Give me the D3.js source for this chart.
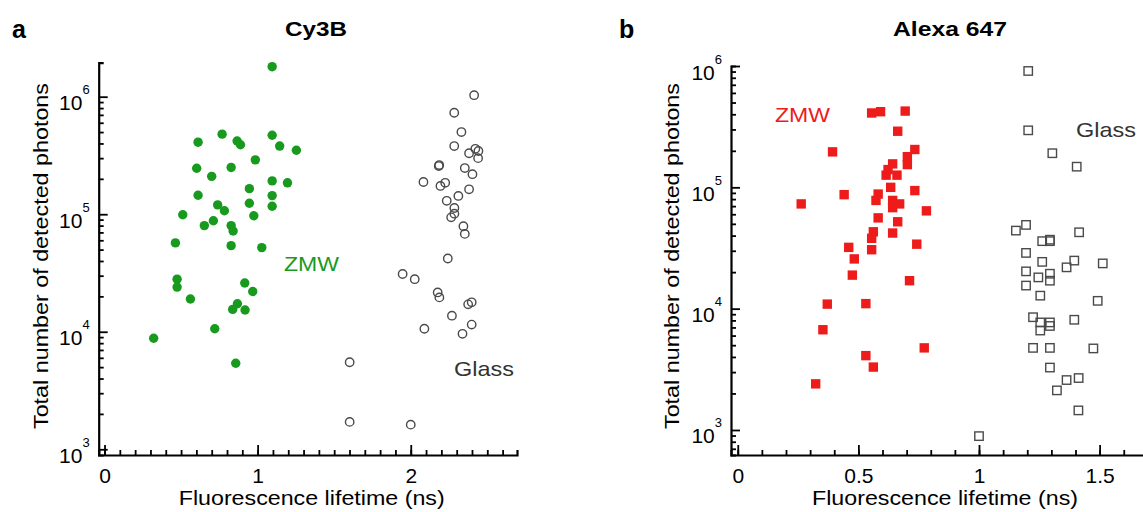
<!DOCTYPE html>
<html>
<head>
<meta charset="utf-8">
<script src="https://cdn.jsdelivr.net/npm/d3@7"></script>
<style>
  body { margin: 0; background: #fff; }
  svg { display: block; font-family: Arial, "Liberation Sans", sans-serif; }
</style>
</head>
<body>
<div id="chart"></div>
<script>
// Cy3B, ZMW (green dots)
const cy3bZmwLifetime = [1.095, 0.768, 0.611, 0.866, 0.888, 1.095, 1.144, 1.253, 0.985, 0.602, 0.827, 0.700, 0.946, 1.095, 1.195, 0.611, 0.946, 1.095, 1.095, 0.739, 0.783, 0.975, 0.511, 0.652, 0.711, 0.827, 0.840, 0.463, 0.827, 1.027, 0.474, 0.474, 0.561, 0.916, 0.968, 0.868, 0.837, 0.918, 0.720, 0.321, 0.857];
const cy3bZmwPhotons = [1.8e6, 4.8e5, 4.1e5, 4.2e5, 3.9e5, 4.7e5, 3.8e5, 3.5e5, 2.9e5, 2.46e5, 2.5e5, 2.1e5, 1.65e5, 1.92e5, 1.85e5, 1.45e5, 1.24e5, 1.44e5, 1.17e5, 1.2e5, 1.07e5, 9.7e4, 9.9e4, 8.0e4, 8.8e4, 8.0e4, 7.2e4, 5.7e4, 5.4e4, 5.2e4, 2.8e4, 2.4e4, 1.9e4, 2.6e4, 2.2e4, 1.73e4, 1.55e4, 1.53e4, 1.06e4, 8.8e3, 5.4e3];

// Cy3B, glass (open circles)
const cy3bGlassLifetime = [2.414, 2.284, 2.331, 2.284, 2.422, 2.442, 2.381, 2.440, 2.183, 2.186, 2.353, 2.403, 2.083, 2.225, 2.194, 2.381, 2.311, 2.235, 2.285, 2.285, 2.264, 2.344, 2.353, 2.242, 1.947, 2.026, 2.176, 2.187, 2.375, 2.398, 2.269, 2.089, 2.398, 2.338, 1.601, 1.601, 2.000];
const cy3bGlassPhotons = [1.03e6, 7.3e5, 5.0e5, 3.8e5, 3.6e5, 3.45e5, 3.3e5, 3.0e5, 2.57e5, 2.62e5, 2.47e5, 2.19e5, 1.88e5, 1.85e5, 1.74e5, 1.63e5, 1.43e5, 1.30e5, 1.13e5, 1.01e5, 9.4e4, 7.9e4, 6.8e4, 4.2e4, 3.1e4, 2.8e4, 2.16e4, 1.96e4, 1.71e4, 1.78e4, 1.37e4, 1.06e4, 1.15e4, 9.6e3, 5.5e3, 1.71e3, 1.62e3];

// Alexa 647, ZMW (red squares)
const a647ZmwLifetime = [0.555, 0.592, 0.694, 0.663, 0.393, 0.734, 0.703, 0.703, 0.642, 0.615, 0.660, 0.634, 0.441, 0.263, 0.734, 0.582, 0.573, 0.642, 0.671, 0.642, 0.782, 0.582, 0.663, 0.562, 0.642, 0.555, 0.742, 0.460, 0.555, 0.483, 0.475, 0.712, 0.371, 0.531, 0.353, 0.773, 0.531, 0.562, 0.323, 0.623];
const a647ZmwPhotons = [4.1e5, 4.2e5, 4.25e5, 2.9e5, 1.96e5, 2.05e5, 1.79e5, 1.54e5, 1.56e5, 1.26e5, 1.26e5, 1.0e5, 8.7e4, 7.3e4, 9.4e4, 8.8e4, 7.8e4, 7.8e4, 7.3e4, 6.8e4, 6.4e4, 5.6e4, 5.2e4, 4.3e4, 4.2e4, 3.8e4, 3.4e4, 3.2e4, 3.06e4, 2.57e4, 1.89e4, 1.70e4, 1.09e4, 1.10e4, 6.7e3, 4.75e3, 4.1e3, 3.3e3, 2.4e3, 1.4e5];

// Alexa 647, glass (open squares)
const a647GlassLifetime = [1.204, 1.204, 1.304, 1.405, 1.153, 1.195, 1.415, 1.262, 1.294, 1.294, 1.195, 1.262, 1.395, 1.363, 1.513, 1.195, 1.246, 1.294, 1.294, 1.195, 1.254, 1.492, 1.224, 1.254, 1.294, 1.294, 1.395, 1.254, 1.224, 1.294, 1.474, 1.294, 1.363, 1.413, 1.323, 1.412, 1.000];
const a647GlassPhotons = [9.1e5, 2.95e5, 1.91e5, 1.48e5, 4.4e4, 4.9e4, 4.26e4, 3.6e4, 3.7e4, 3.6e4, 2.88e4, 2.43e4, 2.49e4, 2.19e4, 2.36e4, 2.03e4, 1.81e4, 1.94e4, 1.70e4, 1.55e4, 1.28e4, 1.16e4, 8.5e3, 7.7e3, 7.7e3, 7.2e3, 8.1e3, 6.6e3, 4.75e3, 4.75e3, 4.7e3, 3.27e3, 2.58e3, 2.68e3, 2.12e3, 1.45e3, 890];

// Tick labels
const cy3bXTicks = [0, 1, 2];
const a647XTicks = [0, 0.5, 1, 1.5];
const yDecades = [1e3, 1e4, 1e5, 1e6];

const GREEN = '#179a1d';
const RED = '#ee1b1b';
const GREY = '#4a4a4a';
const INK = '#000';

const width = 1143, height = 512;
const svg = d3.select('#chart').append('svg')
  .attr('width', width)
  .attr('height', height)
  .attr('viewBox', [0, 0, width, height]);

function zip(xs, ys) { return xs.map((v, i) => ({ x: v, y: ys[i] })); }

// ticks point inward, like the original figure
function styleTicks(a, w) {
  a.selectAll('line').attr('stroke', INK).attr('stroke-width', w);
}

function drawPanel(p) {
  const g = svg.append('g');
  const x = d3.scaleLinear().domain(p.xDomain).range([p.left, p.right]);
  const y = d3.scaleLog().domain(p.yDomain).range([p.bottom, p.top]);

  // minor ticks, every 0.1 ns
  const minorX = d3.range(0, Math.round(p.xMinorMax * 10) + 1).map(i => i / 10);
  g.append('g')
    .attr('transform', `translate(0,${p.bottom})`)
    .call(d3.axisBottom(x).tickValues(minorX).tickSize(-5).tickFormat(''))
    .call(a => a.select('.domain').remove())
    .call(a => styleTicks(a, 1.8));

  const minorY = [];
  for (let e = 2; e <= 6; e++) {
    for (let m = 2; m <= 9; m++) {
      const v = m * Math.pow(10, e);
      if (y(v) < p.bottom - 3 && y(v) > p.top + 3) minorY.push(v);
    }
  }
  g.append('g')
    .attr('transform', `translate(${p.left},0)`)
    .call(d3.axisLeft(y).tickValues(minorY).tickSize(-5).tickFormat(''))
    .call(a => a.select('.domain').remove())
    .call(a => styleTicks(a, 1.8));

  // major x
  g.append('g')
    .attr('transform', `translate(0,${p.bottom})`)
    .call(d3.axisBottom(x).tickValues(p.xTicks).tickSize(-10).tickSizeOuter(-5)
      .tickPadding(13).tickFormat(d3.format('')))
    .call(a => a.select('.domain').attr('stroke', INK).attr('stroke-width', 2.2))
    .call(a => styleTicks(a, 1.8))
    .call(a => a.selectAll('text').attr('font-size', 21).attr('font-family', null).attr('fill', INK));

  // major y with 10^n labels
  g.append('g')
    .attr('transform', `translate(${p.left},0)`)
    .call(d3.axisLeft(y).tickValues(yDecades).tickSize(-9).tickSizeOuter(-5).tickPadding(9))
    .call(a => a.select('.domain').attr('stroke', INK).attr('stroke-width', 2.2))
    .call(a => styleTicks(a, 1.8))
    .call(a => a.selectAll('text')
      .text(null).attr('dy', null).attr('font-family', null).attr('fill', INK)
      .each(function(d) {
        const t = d3.select(this);
        t.append('tspan').attr('dy', 13).attr('font-size', 21).text('10');
        t.append('tspan').attr('dy', -16).attr('font-size', 13).text(Math.round(Math.log10(d)));
      }));

  // glass markers (open), then ZMW markers (filled)
  const glass = zip(p.glassX, p.glassY);
  const zmw = zip(p.zmwX, p.zmwY);
  if (p.shape === 'circle') {
    g.append('g').selectAll('circle').data(glass).join('circle')
      .attr('cx', d => x(d.x)).attr('cy', d => y(d.y)).attr('r', 4.2)
      .attr('fill', 'none').attr('stroke', GREY).attr('stroke-width', 1.4);
    g.append('g').selectAll('circle').data(zmw).join('circle')
      .attr('cx', d => x(d.x)).attr('cy', d => y(d.y)).attr('r', 4.7)
      .attr('fill', p.color);
  } else {
    g.append('g').selectAll('rect').data(glass).join('rect')
      .attr('x', d => x(d.x) - 4.2).attr('y', d => y(d.y) - 4.2)
      .attr('width', 8.4).attr('height', 8.4)
      .attr('fill', 'none').attr('stroke', GREY).attr('stroke-width', 1.4);
    g.append('g').selectAll('rect').data(zmw).join('rect')
      .attr('x', d => x(d.x) - 4.7).attr('y', d => y(d.y) - 4.7)
      .attr('width', 9.4).attr('height', 9.4)
      .attr('fill', p.color);
  }

  // labels
  g.append('text').attr('x', p.letterX).attr('y', 38)
    .attr('font-size', 25).attr('font-weight', 'bold').attr('fill', INK).text(p.letter);
  g.append('text').attr('x', p.titleX).attr('y', 36).attr('text-anchor', 'middle')
    .attr('font-size', 20).attr('font-weight', 'bold').attr('fill', INK)
    .attr('textLength', p.titleLen).attr('lengthAdjust', 'spacingAndGlyphs').text(p.title);
  g.append('text').attr('x', p.left + p.xLabelCx).attr('y', 505).attr('text-anchor', 'middle')
    .attr('font-size', 21).attr('fill', INK)
    .attr('textLength', 266).attr('lengthAdjust', 'spacingAndGlyphs')
    .text('Fluorescence lifetime (ns)');
  g.append('text')
    .attr('transform', `translate(${p.yLabelX},256) rotate(-90)`)
    .attr('text-anchor', 'middle').attr('font-size', 21).attr('fill', INK)
    .attr('textLength', 346).attr('lengthAdjust', 'spacingAndGlyphs')
    .text('Total number of detected photons');
  g.append('text').attr('x', p.zmwLabel[0]).attr('y', p.zmwLabel[1])
    .attr('font-size', 20).attr('fill', p.color)
    .attr('textLength', 55).attr('lengthAdjust', 'spacingAndGlyphs').text('ZMW');
  g.append('text').attr('x', p.glassLabel[0]).attr('y', p.glassLabel[1])
    .attr('font-size', 21).attr('fill', '#333')
    .attr('textLength', 60).attr('lengthAdjust', 'spacingAndGlyphs').text('Glass');
}

drawPanel({
  letter: 'a', letterX: 12, title: 'Cy3B', titleX: 316, titleLen: 62,
  left: 98.7, right: 517, top: 62.7, bottom: 455,
  xDomain: [-0.038, 2.694], yDomain: [894, 1.946e6], xMinorMax: 2.6,
  xTicks: cy3bXTicks, xLabelCx: 213, yLabelX: 48,
  shape: 'circle', color: GREEN,
  zmwX: cy3bZmwLifetime, zmwY: cy3bZmwPhotons,
  glassX: cy3bGlassLifetime, glassY: cy3bGlassPhotons,
  zmwLabel: [284, 271], glassLabel: [454, 376]
});

drawPanel({
  letter: 'b', letterX: 619, title: 'Alexa 647', titleX: 950, titleLen: 114,
  left: 731, right: 1172, top: 66, bottom: 455,
  xDomain: [-0.028, 1.8], yDomain: [622, 1e6], xMinorMax: 1.8,
  xTicks: a647XTicks, xLabelCx: 214, yLabelX: 679,
  shape: 'square', color: RED,
  zmwX: a647ZmwLifetime, zmwY: a647ZmwPhotons,
  glassX: a647GlassLifetime, glassY: a647GlassPhotons,
  zmwLabel: [775, 122], glassLabel: [1076, 137]
});
</script>
</body>
</html>
